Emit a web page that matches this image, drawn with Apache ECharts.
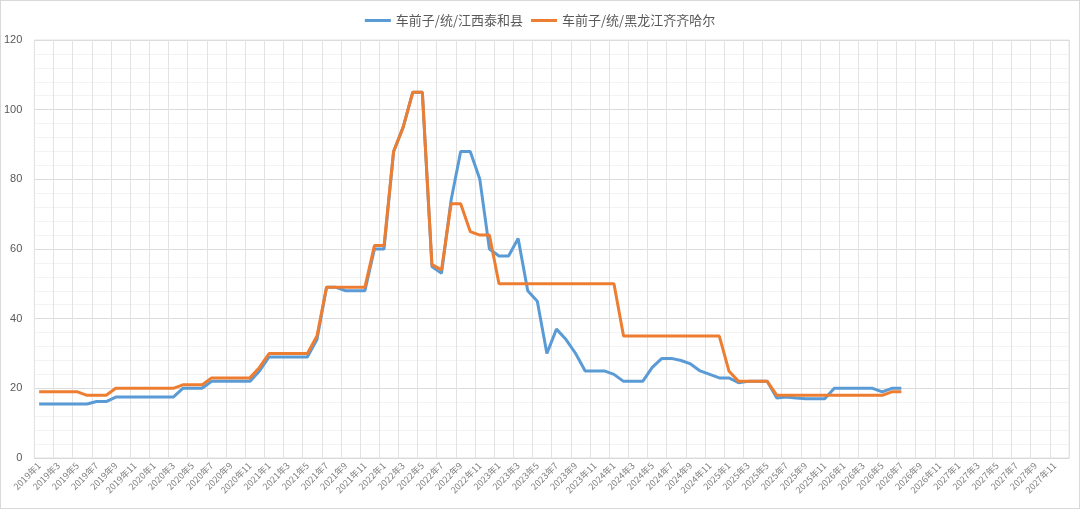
<!DOCTYPE html>
<html>
<head>
<meta charset="utf-8">
<script src="https://cdn.jsdelivr.net/npm/echarts@6/dist/echarts.min.js"></script>
<style>
  html, body { margin: 0; padding: 0; background: #fff; }
  #chart { width: 1078px; height: 507px; border: 1px solid #d9d9d9; }
</style>
</head>
<body>
<div id="chart"></div>
<script>
// 月份类目：2019年1 ~ 2027年12
const years = [2019, 2020, 2021, 2022, 2023, 2024, 2025, 2026, 2027];
const months = [1, 2, 3, 4, 5, 6, 7, 8, 9, 10, 11, 12];
const categories = [];
years.forEach(y => months.forEach(m => categories.push(y + '年' + m)));

const seriesNames = ['车前子/统/江西泰和县', '车前子/统/黑龙江齐齐哈尔'];

// 江西泰和县 (2019年1 ~ 2026年7)
const jiangxi = [
  15.5, 15.5, 15.5, 15.5, 15.5, 15.5, 16.2, 16.2, 17.5, 17.5, 17.5, 17.5,
  17.5, 17.5, 17.5, 20, 20, 20, 22, 22, 22, 22, 22, 25,
  29, 29, 29, 29, 29, 34, 49, 49, 48, 48, 48, 60,
  60, 88, 95, 105, 105, 55, 53, 74, 88, 88, 80, 60,
  58, 58, 63, 48, 45, 30, 37, 34, 30, 25, 25, 25,
  24, 22, 22, 22, 26, 28.6, 28.6, 28, 27, 25, 24, 23,
  23, 21.6, 22, 22, 22, 17.2, 17.5, 17.2, 17, 17, 17, 20,
  20, 20, 20, 20, 19, 20, 20
];

// 黑龙江齐齐哈尔 (2019年1 ~ 2026年7)
const heilongjiang = [
  19, 19, 19, 19, 19, 18, 18, 18, 20, 20, 20, 20,
  20, 20, 20, 21, 21, 21, 23, 23, 23, 23, 23, 26,
  30, 30, 30, 30, 30, 35, 49, 49, 49, 49, 49, 61,
  61, 88, 95, 105, 105, 55.5, 54, 73, 73, 65, 64, 64,
  50, 50, 50, 50, 50, 50, 50, 50, 50, 50, 50, 50,
  50, 35, 35, 35, 35, 35, 35, 35, 35, 35, 35, 35,
  25, 22, 22, 22, 22, 18, 18, 18, 18, 18, 18, 18,
  18, 18, 18, 18, 18, 19, 19
];

const yTicks = { min: 0, max: 120, interval: 20 };

const chart = echarts.init(document.getElementById('chart'));

const option = {
  backgroundColor: '#fff',
  animation: false,
  color: ['#5B9BD5', '#ED7D31'],
  legend: {
    top: 8,
    left: 'center',
    itemWidth: 26,
    itemHeight: 3,
    itemGap: 8,
    icon: 'rect',
    textStyle: { color: '#595959', fontSize: 13, fontFamily: 'Noto Sans CJK SC' },
    data: seriesNames
  },
  grid: {
    left: 32,
    right: 10,
    top: 39,
    bottom: 50,
    show: true,
    borderColor: '#e3e3e3',
    borderWidth: 1
  },
  xAxis: {
    type: 'category',
    data: categories,
    boundaryGap: true,
    axisLine: { show: true, lineStyle: { color: '#d9d9d9' } },
    axisTick: { show: false },
    axisLabel: {
      interval: 1,
      rotate: 45,
      color: '#7f7f7f',
      fontSize: 9,
      margin: 6,
      fontFamily: 'Noto Sans CJK SC'
    },
    splitLine: { show: true, interval: 1, lineStyle: { color: '#e3e3e3' } }
  },
  yAxis: {
    type: 'value',
    min: yTicks.min,
    max: yTicks.max,
    interval: yTicks.interval,
    axisLine: { show: false },
    axisTick: { show: false },
    axisLabel: { color: '#595959', fontSize: 11, margin: 12 },
    splitLine: { lineStyle: { color: '#dcdcdc' } },
    minorTick: { show: false, splitNumber: 5 },
    minorSplitLine: { show: true, lineStyle: { color: '#f3f3f3' } }
  },
  series: [
    {
      name: seriesNames[0],
      type: 'line',
      data: jiangxi,
      symbol: 'none',
      lineStyle: { width: 3 },
      z: 2
    },
    {
      name: seriesNames[1],
      type: 'line',
      data: heilongjiang,
      symbol: 'none',
      lineStyle: { width: 3 },
      z: 3
    }
  ]
};

chart.setOption(option);
window.addEventListener('resize', () => chart.resize());
</script>
</body>
</html>
